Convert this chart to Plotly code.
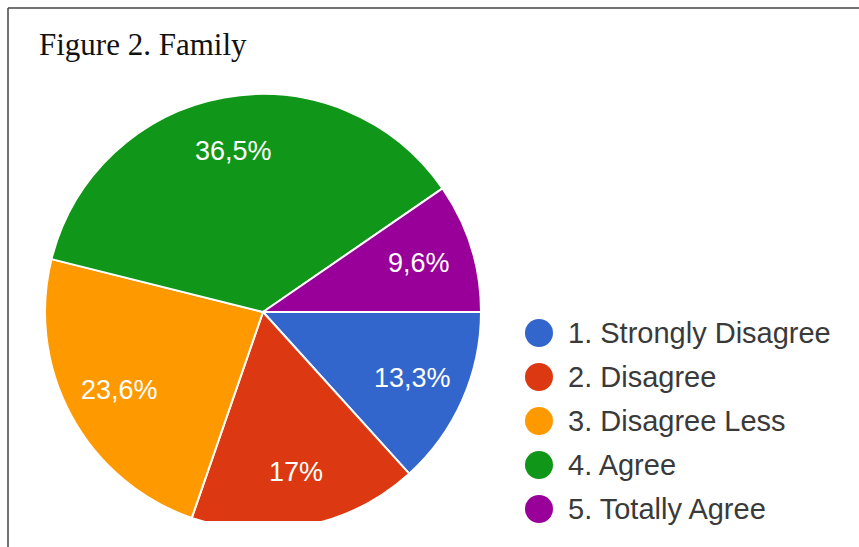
import math
import plotly.graph_objects as go

# Survey responses for "Family"
categories = ["1. Strongly Disagree", "2. Disagree", "3. Disagree Less", "4. Agree", "5. Totally Agree"]
shares = [13.3, 17.0, 23.6, 36.5, 9.6]
colors = ["#3366cc", "#dc3912", "#ff9900", "#109618", "#990099"]

W, H = 859, 547
SANS = "Liberation Sans, Arial, sans-serif"


def px(x):
    return x / W


def py(y):
    return 1 - y / H


# pie geometry in pixels
cx, cy, r = 263, 312, 218
start_deg = 0.0          # first slice starts at 3 o'clock, runs clockwise
label_frac = 0.75        # radial position of the percentage labels

fig = go.Figure()
fig.add_trace(go.Pie(
    labels=categories,
    values=shares,
    sort=False,
    direction="clockwise",
    rotation=90,
    marker=dict(colors=colors, line=dict(color="white", width=2)),
    textinfo="none",
    domain=dict(x=[px(cx - r), px(cx + r)], y=[py(cy + r), py(cy - r)]),
    showlegend=False,
    hoverinfo="label+percent",
))

shapes = []
annotations = []

# percentage labels placed at each slice's mid-angle
total = sum(shares)
acc = 0.0
for v in shares:
    mid = start_deg - 360.0 * (acc + v / 2) / total
    acc += v
    lx = cx + label_frac * r * math.cos(math.radians(mid))
    ly = cy - label_frac * r * math.sin(math.radians(mid))
    txt = f"{v / total * 100:.1f}".rstrip("0").rstrip(".").replace(".", ",") + "%"
    annotations.append(dict(xref="paper", yref="paper", x=px(lx), y=py(ly),
                            xanchor="center", yanchor="middle", showarrow=False,
                            text=txt,
                            font=dict(family=SANS, size=27, color="white")))

# flat cut along the bottom of the pie
shapes.append(dict(type="rect", xref="paper", yref="paper", layer="above",
                   x0=px(9), x1=1, y0=0, y1=py(521),
                   fillcolor="white", line=dict(width=0)))

# frame lines (top and left)
shapes.append(dict(type="line", xref="paper", yref="paper", layer="above",
                   x0=px(8), x1=1, y0=py(8), y1=py(8),
                   line=dict(color="#444444", width=1.5)))
shapes.append(dict(type="line", xref="paper", yref="paper", layer="above",
                   x0=px(8), x1=px(8), y0=py(8), y1=0,
                   line=dict(color="#444444", width=1.5)))

# legend: coloured dots with labels
leg_x, leg_y0, leg_step, dot_r = 539, 333, 44, 14
for i, (name, col) in enumerate(zip(categories, colors)):
    yc = leg_y0 + i * leg_step
    shapes.append(dict(type="circle", xref="paper", yref="paper", layer="above",
                       x0=px(leg_x - dot_r), x1=px(leg_x + dot_r),
                       y0=py(yc + dot_r), y1=py(yc - dot_r),
                       fillcolor=col, line=dict(width=0)))
    annotations.append(dict(xref="paper", yref="paper", x=px(566), y=py(yc),
                            xanchor="left", yanchor="middle", showarrow=False,
                            text=name,
                            font=dict(family=SANS, size=29, color="#3a3a3a")))

# figure caption
annotations.append(dict(xref="paper", yref="paper", x=px(37), y=py(44),
                        xanchor="left", yanchor="middle", showarrow=False,
                        text="Figure 2. Family",
                        font=dict(family="Liberation Serif, Times New Roman, serif",
                                  size=31, color="#111111")))

fig.update_layout(
    width=W, height=H,
    margin=dict(l=0, r=0, t=0, b=0),
    paper_bgcolor="white",
    plot_bgcolor="white",
    shapes=shapes,
    annotations=annotations,
)

fig.write_html("out.html")
